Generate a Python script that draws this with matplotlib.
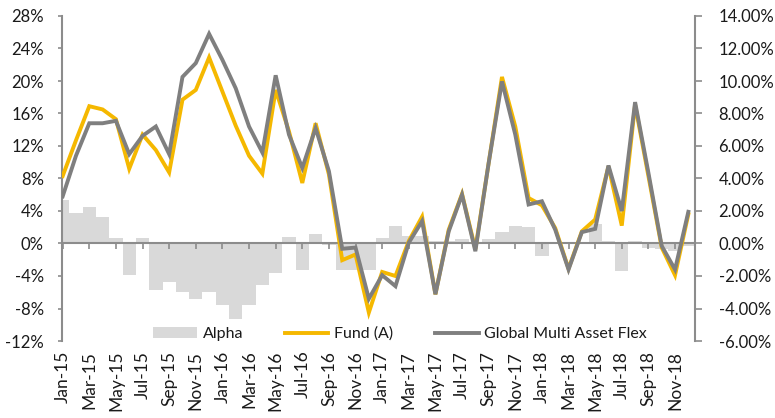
import numpy as np
import matplotlib
matplotlib.use("Agg")
import matplotlib.pyplot as plt

plt.rcParams['font.family'] = ['Lato', 'DejaVu Sans']

# monthly categories Jan-15 .. Dec-18
months = ['Jan', 'Feb', 'Mar', 'Apr', 'May', 'Jun', 'Jul', 'Aug', 'Sep', 'Oct', 'Nov', 'Dec']
categories = [m + '-' + y for y in ['15', '16', '17', '18'] for m in months]

# Fund (A), left axis, %
fund = [8.3, 12.7, 16.9, 16.5, 15.3, 9.2, 13.4, 11.5, 8.75, 17.7, 18.9, 22.9,
        18.7, 14.5, 10.8, 8.6, 18.9, 13.8, 7.45, 14.8, 8.5, -2.05, -1.35, -8.5,
        -3.5, -4.0, 0.3, 3.3, -6.25, 1.7, 6.1, -0.7, 9.9, 20.5, 14.4, 5.6,
        4.7, 1.9, -3.1, 1.5, 2.95, 9.5, 2.2, 17.1, 8.3, -0.5, -3.9, 3.6]

# Global Multi Asset Flex, left axis, %
bench = [5.8, 10.8, 14.8, 14.8, 15.1, 11.0, 13.25, 14.4, 11.0, 20.5, 22.2, 25.8,
         22.6, 19.1, 14.4, 11.2, 20.7, 13.4, 9.3, 14.2, 8.9, -0.65, -0.5, -6.8,
         -3.9, -5.25, 0.1, 2.75, -6.25, 1.5, 6.0, -0.95, 9.9, 19.95, 13.4, 4.8,
         5.2, 1.7, -3.2, 1.4, 1.8, 9.6, 4.0, 17.4, 8.7, -0.3, -3.2, 3.9]

# Alpha, right axis, %
alpha = [2.7, 1.85, 2.25, 1.64, 0.35, -1.96, 0.35, -2.88, -2.37, -2.99, -3.4, -2.99,
         -3.8, -4.67, -3.8, -2.58, -1.84, 0.37, -1.62, 0.57, -0.12, -1.6, -1.6, -1.6,
         0.35, 1.1, 0.47, 0.45, 0.14, 0.14, 0.27, -0.05, 0.27, 0.72, 1.1, 1.0,
         -0.78, 0.05, 0.0, 0.05, 1.2, 0.15, -1.7, 0.15, -0.27, -0.35, -0.47, -0.16]

left_ticks = list(range(-12, 29, 4))
right_ticks = list(range(-6, 15, 2))

YELLOW = '#F5B800'
GREY = '#7F7F7F'
BAR = '#D9D9D9'
AXC = '#8C8C8C'
TXT = '#1A1A1A'

x = np.arange(len(categories))

fig = plt.figure(figsize=(7.75, 4.18), dpi=100)
ax = fig.add_axes([62/775, 1 - 341/418, (695 - 62)/775, (341 - 16)/418])
ax2 = ax.twinx()

# bars on the right axis, drawn below the lines
ax2.bar(x, alpha, width=1.0, color=BAR, label='Alpha', zorder=1)
ax.set_zorder(ax2.get_zorder() + 1)
ax.patch.set_visible(False)

ax.plot(x, fund, color=YELLOW, lw=2.8, label='Fund (A)', zorder=3, solid_joinstyle='miter')
ax.plot(x, bench, color=GREY, lw=2.8, label='Global Multi Asset Flex', zorder=4, solid_joinstyle='miter')

ax.set_xlim(-0.05, 47.5)
ax.set_ylim(-12, 28)
ax2.set_ylim(-6, 14)

ax.set_yticks(left_ticks)
ax.set_yticklabels([f'{v}%' for v in left_ticks])
ax2.set_yticks(right_ticks)
ax2.set_yticklabels([f'{v:.2f}%' for v in right_ticks])

for a in (ax, ax2):
    a.spines['top'].set_visible(False)
ax.spines['right'].set_visible(False)
ax2.spines['left'].set_visible(False)
ax2.spines['bottom'].set_visible(False)
ax.spines['left'].set_color(AXC)
ax.spines['left'].set_linewidth(1.5)
ax2.spines['right'].set_color(AXC)
ax2.spines['right'].set_linewidth(1.5)

# zero line with category ticks
ax.spines['bottom'].set_position(('data', 0))
ax.spines['bottom'].set_color(AXC)
ax.spines['bottom'].set_linewidth(1.5)
ax.spines['bottom'].set_zorder(2)
ax.set_xticks(x[::2])
ax.tick_params(axis='x', direction='out', length=4.5, width=1.2, color=AXC, labelbottom=False)

ax.tick_params(axis='y', direction='out', length=3, width=1.2, color=AXC, labelsize=12,
               labelcolor=TXT, pad=10)
ax2.tick_params(axis='y', direction='out', length=5, width=1.2, color=AXC, labelsize=12,
                labelcolor=TXT, pad=12)

# category labels along the bottom of the plot area
sec = ax.secondary_xaxis('bottom')
sec.set_xticks(x[::2])
sec.set_xticklabels(categories[::2], rotation=90, fontsize=12.5, color=TXT)
sec.tick_params(length=0, pad=7)
sec.spines['bottom'].set_visible(False)

h1, l1 = ax2.get_legend_handles_labels()
h2, l2 = ax.get_legend_handles_labels()
leg = fig.legend(h1 + h2, l1 + l2, loc='center', bbox_to_anchor=(400/775, 1 - 334/418),
                 ncol=3, frameon=False, fontsize=11.5, handlelength=2.75,
                 handletextpad=0.35, columnspacing=2.6)
for t in leg.get_texts():
    t.set_color(TXT)

fig.savefig('out.png', dpi=100)
